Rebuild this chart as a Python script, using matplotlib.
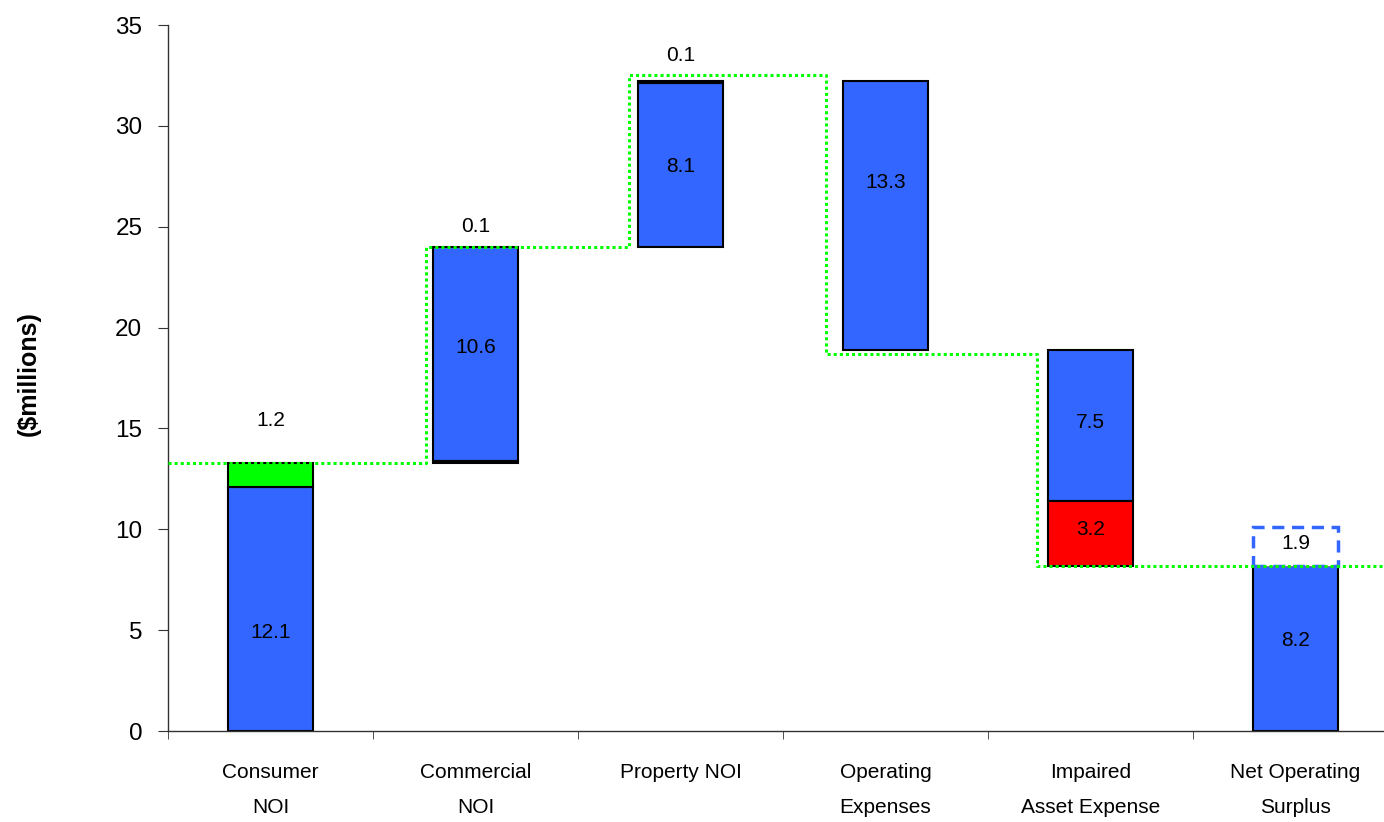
import matplotlib
matplotlib.use('Agg')
import matplotlib.pyplot as plt
import numpy as np

plt.rcParams['font.family'] = ['Liberation Sans', 'DejaVu Sans']

# Categories along the x axis
categories = ['Consumer\nNOI', 'Commercial\nNOI', 'Property NOI',
              'Operating\nExpenses', 'Impaired\nAsset Expense', 'Net Operating\nSurplus']

# Stacked pieces ($millions) and where each piece starts
blue = [12.1, 10.6, 8.1, 13.3, 7.5, 8.2]
blue_bottom = [0.0, 13.4, 24.0, 18.9, 11.4, 0.0]
green = [1.2, 0.0, 0.0, 0.0, 0.0, 0.0]
green_bottom = [12.1, 0.0, 0.0, 0.0, 0.0, 0.0]
dark = [0.0, 0.1, 0.1, 0.0, 0.0, 0.0]
dark_bottom = [0.0, 13.3, 32.1, 0.0, 0.0, 0.0]
red = [0.0, 0.0, 0.0, 0.0, 3.2, 0.0]
red_bottom = [0.0, 0.0, 0.0, 0.0, 8.2, 0.0]
gap = [0.0, 0.0, 0.0, 0.0, 0.0, 1.9]
gap_bottom = [0.0, 0.0, 0.0, 0.0, 0.0, 8.2]

# Running level (green dotted step line)
level = [13.3, 24.0, 32.5, 18.7, 8.2]

# Value labels
label_text = ['1.2', '12.1', '0.1', '10.6', '0.1', '8.1', '13.3', '7.5', '3.2', '1.9', '8.2']
label_cat = [0, 0, 1, 1, 2, 2, 3, 4, 4, 5, 5]

# positions
label_y = [15.4, 4.9, 25.0, 19.0, 33.5, 28.0, 27.2, 15.3, 10.0, 9.3, 4.5]
step_x = [-0.5, 0.76, 1.75, 2.71, 3.74, 5.5]

BLUE = '#3366FF'
GREEN = '#00FF00'
RED = '#FF0000'
DARK = '#000080'

fig = plt.figure(figsize=(13.84, 8.22), dpi=100)
ax = fig.add_axes([168 / 1384, 1 - 731 / 822, 1230 / 1384, 706 / 822])

x = np.arange(len(categories))
w = 0.41
kw = dict(width=w, edgecolor='black', linewidth=1.5, zorder=2)

def draw(vals, bottoms, color):
    v = np.array(vals)
    m = v > 0
    ax.bar(x[m], v[m], bottom=np.array(bottoms)[m], color=color, **kw)

draw(blue, blue_bottom, BLUE)
draw(green, green_bottom, GREEN)
draw(dark, dark_bottom, DARK)
draw(red, red_bottom, RED)

g = np.array(gap)
m = g > 0
ax.bar(x[m], g[m], bottom=np.array(gap_bottom)[m], width=w, facecolor='white',
       edgecolor=BLUE, linewidth=2.5, linestyle=(0, (3.5, 2.2)), zorder=2)

ax.step(step_x, level + [level[-1]], where='post', color=GREEN,
        linewidth=2.2, linestyle=(0, (1, 1)), zorder=4, clip_on=False)

for t, c, yy in zip(label_text, label_cat, label_y):
    ax.text(c, yy, t, ha='center', va='center', fontsize=15, zorder=5)

ax.set_xlim(-0.5, 5.5)
ax.set_ylim(0, 35)
ax.set_yticks(np.arange(0, 36, 5))
ax.tick_params(axis='y', labelsize=17.5, length=7.5, pad=11, color='#333333')

ax.set_xticks(x)
ax.set_xticklabels(categories, fontsize=15, linespacing=2.05)
ax.set_xticks(np.arange(-0.5, 6.0, 1.0), minor=True)
ax.tick_params(axis='x', which='major', length=0, pad=23)
ax.tick_params(axis='x', which='minor', length=5.5, color='#333333', direction='out')

for s in ['top', 'right']:
    ax.spines[s].set_visible(False)
for s in ['left', 'bottom']:
    ax.spines[s].set_color('#333333')
    ax.spines[s].set_linewidth(1.0)

fig.text(29 / 1384, 1 - 374 / 822, '($millions)', rotation=90, ha='center', va='center',
         fontsize=18, fontweight='bold')

fig.savefig('out.png', dpi=100)
